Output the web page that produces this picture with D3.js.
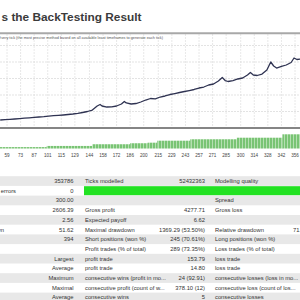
<!DOCTYPE html>
<html>
<head>
<meta charset="utf-8">
<script src="https://cdn.jsdelivr.net/npm/d3@7"></script>
<style>
  html, body { margin: 0; padding: 0; background: #fff; }
  svg { display: block; font-family: "Liberation Sans", Arial, sans-serif; }
</style>
</head>
<body>
<div id="chart"></div>
<script>
// balance curve (trade number, balance)
let tradeNo = [52, 57, 62, 67, 72, 77, 82, 87, 92, 97, 102, 107, 112, 117, 122, 127, 132, 137, 142, 147,
	152, 155, 157, 162, 167, 172, 177, 180, 182, 187, 192, 197, 202, 207, 212, 217, 222, 227, 232, 237,
	242, 247, 252, 257, 262, 267, 272, 277, 281, 284, 287, 292, 297, 302, 307, 310, 313, 317, 322, 327,
	331, 334, 337, 342, 347, 352, 355, 358, 362];
let balance = [242, 255, 264, 273, 285, 297, 309, 321, 333, 345, 361, 373, 382, 394, 409, 424, 445, 470, 500, 545,
	667, 712, 667, 636, 642, 667, 727, 803, 758, 727, 742, 788, 848, 894, 885, 939, 970, 1015, 1045, 1076,
	1106, 1136, 1167, 1212, 1242, 1303, 1333, 1424, 1530, 1439, 1409, 1439, 1485, 1515, 1606, 1682, 1606, 1591, 1636, 1758,
	2000, 1879, 1818, 1864, 1909, 1985, 2121, 2076, 2091];

// lot size steps (first trade of step, lots)
let lotStart = [40, 100, 147, 186, 204, 214, 248, 296, 343];
let lotSize = [0.1, 0.18, 0.3, 0.37, 0.41, 0.55, 0.65, 0.76, 1.0];
let lastTrade = 370;

let tickValues = [59, 73, 87, 101, 115, 129, 144, 158, 172, 186, 200, 215, 229, 243, 257, 271, 285, 300, 314, 328, 342, 356];
let balanceGrid = [500, 1000, 1500, 2000, 2500];

// report table
let colAName = ["", "Mismatched charts errors", "", "", "", "Absolute drawdown", "", "", "", "", "", "", ""];
let colAValue = ["353786", "0", "300.00", "2606.39", "2.56", "51.62", "394", "", "Largest", "Average", "Maximum", "Maximal", "Average"];
let colBName = ["Ticks modelled", "", "", "Gross profit", "Expected payoff", "Maximal drawdown", "Short positions (won %)",
	"Profit trades (% of total)", "profit trade", "profit trade", "consecutive wins (profit in mo...",
	"consecutive profit (count of w...", "consecutive wins"];
let colBValue = ["52432363", "", "", "4277.71", "6.62", "1369.29 (53.50%)", "245 (70.61%)", "289 (73.35%)",
	"153.79", "14.80", "24 (92.91)", "378.10 (12)", "5"];
let colCName = ["Modelling quality", "", "Spread", "Gross loss", "", "Relative drawdown", "Long positions (won %)",
	"Loss trades (% of total)", "loss trade", "loss trade", "consecutive losses (loss in mo...",
	"consecutive loss (count of los...", "consecutive losses"];
let colCValue = ["", "", "", "", "", "71.48% (1369.29)", "", "", "", "", "", "", ""];
let qualityRow = 1;

let w = 300, h = 300;
let svg = d3.select("#chart").append("svg").attr("width", w).attr("height", h);

// title
svg.append("text")
	.attr("x", 1.5).attr("y", 20.7)
	.style("font-size", "11.6px").style("font-weight", "bold").style("fill", "#3b3b3b")
	.attr("textLength", 140).attr("lengthAdjust", "spacingAndGlyphs")
	.text("s the BackTesting Result");

let x = d3.scaleLinear().domain([59, 356]).range([7, 295]);
let yBal = d3.scaleLinear().domain([0, 3000]).range([128, 29]);
let yLot = d3.scaleLinear().domain([0, 1]).range([148.5, 134.3]);

// grid
let g = svg.append("g");
g.selectAll("line.vgrid").data(tickValues).enter().append("line")
	.attr("class", "vgrid")
	.attr("x1", d => x(d)).attr("x2", d => x(d))
	.attr("y1", 34).attr("y2", 127)
	.attr("stroke", "#e2e2e2").attr("stroke-width", 0.8).attr("stroke-dasharray", "2,1");
g.selectAll("line.hgrid").data(balanceGrid).enter().append("line")
	.attr("class", "hgrid")
	.attr("x1", 0).attr("x2", w)
	.attr("y1", d => yBal(d)).attr("y2", d => yBal(d))
	.attr("stroke", "#dcdcdc").attr("stroke-width", 0.8).attr("stroke-dasharray", "2,1");

// top border and caption
svg.append("line").attr("x1", 0).attr("x2", w).attr("y1", 33.3).attr("y2", 33.3)
	.attr("stroke", "#a8a8a8").attr("stroke-width", 2);
svg.append("text")
	.attr("x", 163).attr("y", 39).attr("text-anchor", "end")
	.style("font-size", "3.8px").style("fill", "#555")
	.text("Every tick (the most precise method based on all available least timeframes to generate each tick)");

// balance line
let line = d3.line().x((d, i) => x(tradeNo[i])).y(d => yBal(d));
svg.append("path").datum(balance)
	.attr("d", line)
	.attr("fill", "none").attr("stroke", "#2f3352").attr("stroke-width", 1.3)
	.attr("stroke-linejoin", "round");

// separator
svg.append("line").attr("x1", 0).attr("x2", w).attr("y1", 128).attr("y2", 128)
	.attr("stroke", "#5c5c5c").attr("stroke-width", 1.5);

// lot bars
let defs = svg.append("defs");
let pat = defs.append("pattern").attr("id", "lots")
	.attr("patternUnits", "userSpaceOnUse").attr("width", 3).attr("height", 30);
pat.append("rect").attr("width", 3).attr("height", 30).attr("fill", "#79c474");
pat.append("rect").attr("x", 2.2).attr("width", 0.8).attr("height", 30).attr("fill", "#c4e6c0");

svg.selectAll("rect.lot").data(lotSize).enter().append("rect")
	.attr("class", "lot")
	.attr("x", (d, i) => x(lotStart[i]))
	.attr("width", (d, i) => x(i < lotStart.length - 1 ? lotStart[i + 1] : lastTrade) - x(lotStart[i]))
	.attr("y", d => yLot(d))
	.attr("height", d => yLot(0) - yLot(d))
	.attr("fill", "url(#lots)");

// x ticks
svg.selectAll("text.tick").data(tickValues).enter().append("text")
	.attr("class", "tick")
	.attr("x", d => x(d)).attr("y", 156.5)
	.attr("text-anchor", "middle")
	.style("font-size", "4.6px").style("fill", "#444")
	.text(d => d);

// table
let rowTop = 176.2, rowH = 9.7, fs = "5.8px";
let rows = svg.append("g");
colAValue.forEach(function(v, i){
	let y0 = rowTop + i * rowH;
	if(i % 2 === 0){
		rows.append("rect").attr("x", 0).attr("y", y0).attr("width", w).attr("height", rowH).attr("fill", "#e8e8e8");
	}
	if(i === qualityRow){
		rows.append("rect").attr("x", 84).attr("y", y0 + 0.3).attr("width", w - 84).attr("height", rowH - 0.6).attr("fill", "#22e222");
	}
	let yt = y0 + rowH / 2 + 2;
	let put = function(tx, anchor, str){
		if(!str) return;
		rows.append("text").attr("x", tx).attr("y", yt).attr("text-anchor", anchor)
			.style("font-size", fs).style("fill", "#333").text(str);
	};
	put(i === 1 ? 16 : 4, "end", colAName[i]);
	put(73.5, "end", v);
	put(85, "start", colBName[i]);
	put(205, "end", colBValue[i]);
	put(215, "start", colCName[i]);
	put(293, "start", colCValue[i]);
});
</script>
</body>
</html>
